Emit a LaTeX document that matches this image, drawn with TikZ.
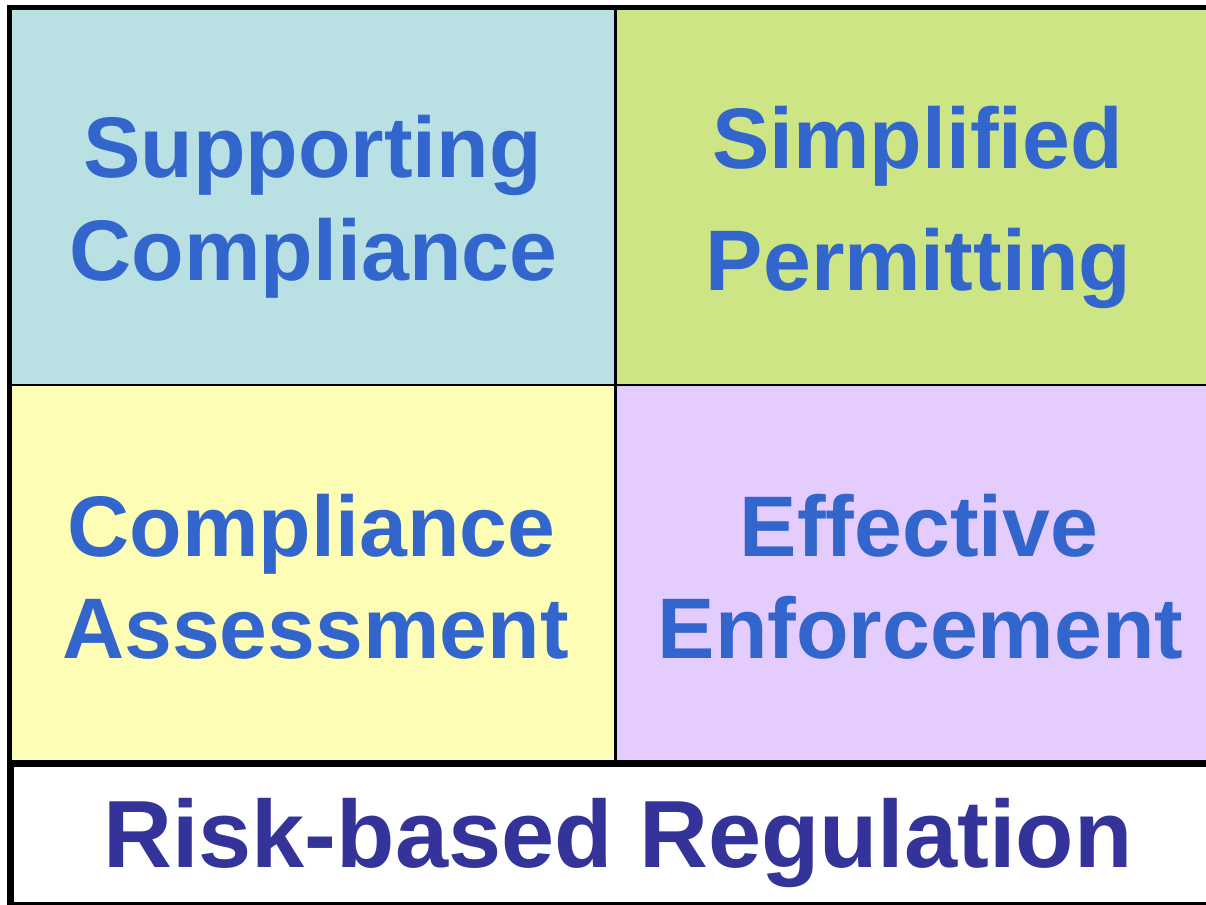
\documentclass[tikz,border=0pt]{standalone}
\usepackage{fontspec}
\setmainfont{Liberation Sans}
\definecolor{cellA}{HTML}{B9E0E3}
\definecolor{cellB}{HTML}{CDE584}
\definecolor{cellC}{HTML}{FDFDB5}
\definecolor{cellD}{HTML}{E5CCFE}
\definecolor{txtblue}{HTML}{3366CC}
\definecolor{txtnavy}{HTML}{333399}
\begin{document}
\begin{tikzpicture}[x=1pt,y=-1pt,
  cell/.style={draw=black, line width=2.5pt, inner sep=0pt, outer sep=0pt, anchor=north west,
               minimum width=605.5pt},
  lbl/.style={anchor=base, inner sep=0pt, text=txtblue, font=\bfseries\fontsize{86}{86}\selectfont},
  basebox/.style={draw=black, fill=white, line width=7pt, inner sep=0pt, outer sep=0pt, anchor=north west},
  baselbl/.style={anchor=base, inner sep=0pt, text=txtnavy, font=\bfseries\fontsize{95.5}{95.5}\selectfont}]
\useasboundingbox (0,0) rectangle (1206,904);
\clip (0,0) rectangle (1206,904);
% cells
\node[cell, fill=cellA, minimum height=377.5pt] (tl) at (9.8,7.5) {};
\node[cell, fill=cellB, minimum height=377.5pt] (tr) at (615.3,7.5) {};
\node[cell, fill=cellC, minimum height=378pt] (bl) at (9.8,385) {};
\node[cell, fill=cellD, minimum height=378pt] (br) at (615.3,385) {};
% outer frame
\draw[line width=5pt] (tl.north west) rectangle (br.south east);
% base box
\node[basebox, minimum width=1210.5pt, minimum height=142pt] (rb) at (10.4,763) {};
% labels
\node[lbl] (t1a) at (312.5,178) {Supporting};
\node[lbl] (t1b) at (313.5,280) {Compliance};
\node[lbl] (t2a) at (917.5,168) {Simplified};
\node[lbl] (t2b) at (918.5,290) {Permitting};
\node[lbl] (t3a) at (311.5,556) {Compliance};
\node[lbl] (t3b) at (315.5,658) {Assessment};
\node[lbl] (t4a) at (919,556) {Effective};
\node[lbl] (t4b) at (920.5,658) {Enforcement};
\node[baselbl] (rbl) at (618,867) {Risk-based Regulation};
\end{tikzpicture}
\end{document}
